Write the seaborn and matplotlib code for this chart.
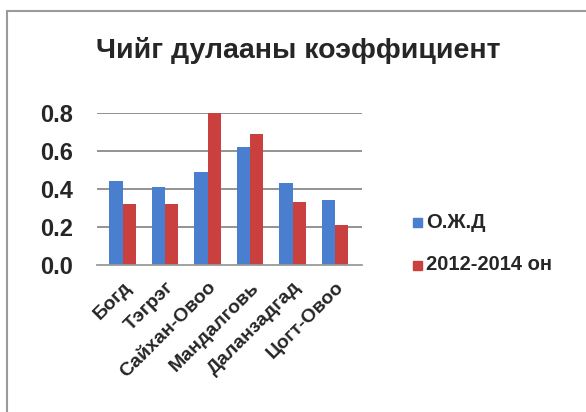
import matplotlib
matplotlib.use("Agg")
import matplotlib.pyplot as plt
import matplotlib.patches as mpatches
import seaborn as sns
import pandas as pd

categories = ["Богд", "Тэгрэг", "Сайхан-Овоо", "Мандалговь", "Даланзадгад", "Цогт-Овоо"]
ozhd = [0.44, 0.41, 0.49, 0.62, 0.43, 0.34]
years_2012_2014 = [0.32, 0.32, 0.80, 0.69, 0.33, 0.21]
series_names = ["О.Ж.Д", "2012-2014 он"]
yticks = [0.0, 0.2, 0.4, 0.6, 0.8]
colors = ["#4a7fd0", "#c9403e"]

df = pd.DataFrame({
    "station": categories * 2,
    "value": ozhd + years_2012_2014,
    "series": [series_names[0]] * len(categories) + [series_names[1]] * len(categories),
})

sns.set_theme(style="white")
plt.rcParams["font.family"] = ["Liberation Sans", "DejaVu Sans"]

fig = plt.figure(figsize=(5.86, 4.12), dpi=100)
ax = fig.add_axes([97 / 586, (412 - 265) / 412, 265 / 586, (265 - 113) / 412])

sns.barplot(data=df, x="station", y="value", hue="series", palette=colors,
            width=0.62, ax=ax, legend=False, edgecolor="none", saturation=1)

ax.set_ylim(0, 0.8)
ax.set_xlim(-0.6, 5.63)
ax.set_yticks(yticks)
ax.set_yticklabels([f"{t:.1f}" for t in yticks], fontsize=17, fontweight="bold")
ax.set_xticks(range(len(categories)))
ax.set_xticklabels(categories, rotation=45, ha="right", rotation_mode="anchor",
                   fontsize=14, fontweight="bold")
ax.tick_params(axis="y", pad=17, length=0)
ax.tick_params(axis="x", pad=10, length=0)
ax.set_xlabel("")
ax.set_ylabel("")
for y in yticks[1:]:
    ax.axhline(y, color="#8a8a8a", lw=1.3, zorder=0)
ax.set_axisbelow(True)
for s in ["top", "right", "left"]:
    ax.spines[s].set_visible(False)
ax.spines["bottom"].set_color("#9a9a9a")
ax.spines["bottom"].set_linewidth(1.3)

fig.text(298 / 586, 1 - 50 / 412, "Чийг дулааны коэффициент", ha="center", va="center",
         fontsize=20.5, fontweight="bold")

# legend
for i, (name, c) in enumerate(zip(series_names, colors)):
    yy = 1 - (222 + 43 * i) / 412
    fig.patches.append(mpatches.Rectangle((413 / 586, yy - 4.5 / 412), 9 / 586, 9 / 412,
                                          transform=fig.transFigure, color=c))
    fig.text(426 / 586, yy, name, ha="left", va="center", fontsize=14.5, fontweight="bold")

# outer frame
fig.patches.append(mpatches.Rectangle((7 / 586, -0.1), 1.2, (412 - 11) / 412 + 0.1,
                                      transform=fig.transFigure, fill=False,
                                      edgecolor="#9a9a9a", lw=1.5))

fig.savefig("out.png", dpi=100)
